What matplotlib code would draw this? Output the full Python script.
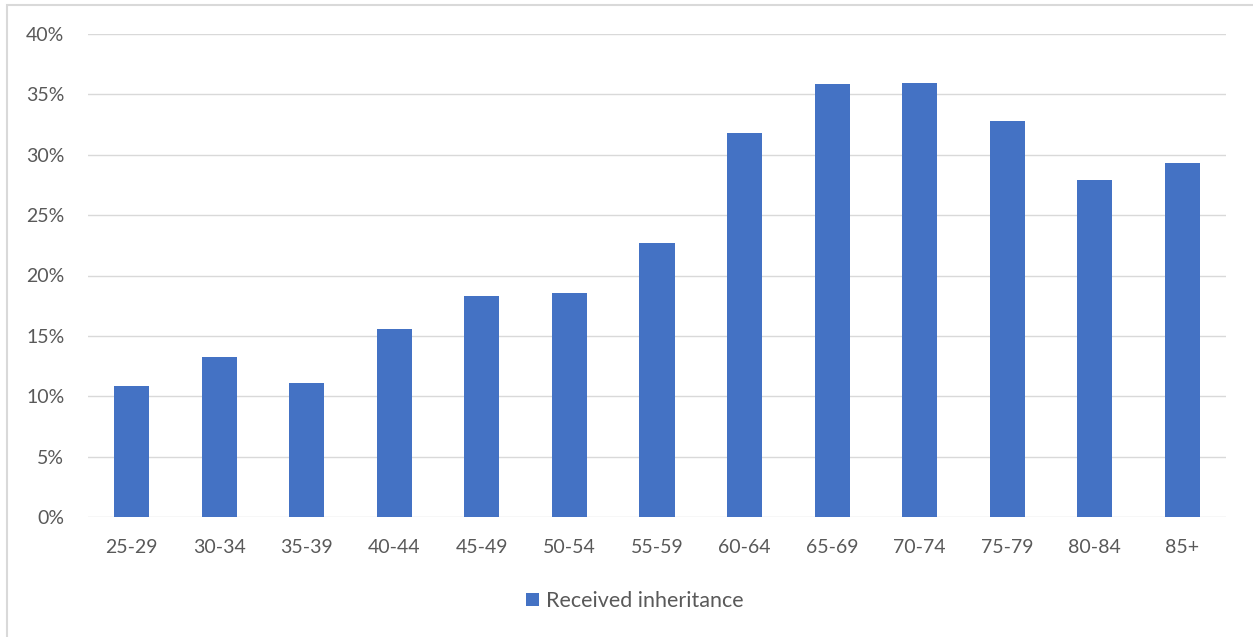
import matplotlib.pyplot as plt
from matplotlib.patches import Rectangle
from matplotlib.ticker import FuncFormatter, MultipleLocator

BAR_COLOR = "#4472C4"
GRID_COLOR = "#D9D9D9"
TEXT_COLOR = "#595959"

age_groups = ["25-29", "30-34", "35-39", "40-44", "45-49", "50-54", "55-59",
              "60-64", "65-69", "70-74", "75-79", "80-84", "85+"]
received_share = [10.85, 13.25, 11.1, 15.57, 18.3, 18.55, 22.7,
                  31.8, 35.9, 35.97, 32.8, 27.9, 29.3]
series_name = "Received inheritance"

plt.rcParams["font.family"] = ["Lato", "DejaVu Sans"]

fig = plt.figure(figsize=(12.53, 6.37), dpi=100)
ax = fig.add_axes([88 / 1253, 1 - 517 / 637, (1226 - 88) / 1253, (517 - 34) / 637])

# chart frame
fig.patches.append(Rectangle((7 / 1253, -0.01), 1.02, 1 - 5 / 637 + 0.01,
                             transform=fig.transFigure, fill=False,
                             edgecolor=GRID_COLOR, linewidth=1.5))

x = range(len(age_groups))
ax.bar(x, [v / 100 for v in received_share], width=0.4, color=BAR_COLOR,
       label=series_name, zorder=3)

ax.set_xlim(-0.5, len(age_groups) - 0.5)
ax.set_ylim(0, 0.40)
ax.yaxis.set_major_locator(MultipleLocator(0.05))
ax.yaxis.set_major_formatter(FuncFormatter(lambda v, _: f"{v * 100:.0f}%"))
ax.set_xticks(list(x))
ax.set_xticklabels(age_groups)

ax.grid(axis="y", color=GRID_COLOR, linewidth=1.0, zorder=0)
for s in ax.spines.values():
    s.set_visible(False)
ax.tick_params(length=0, labelsize=14, colors=TEXT_COLOR)
ax.tick_params(axis="x", pad=16)
ax.tick_params(axis="y", pad=17)

fig.legend(loc="center", bbox_to_anchor=(635 / 1253, 1 - 601 / 637),
           frameon=False, fontsize=15.5, labelcolor=TEXT_COLOR,
           handlelength=0.6, handleheight=0.6, handletextpad=0.35)

fig.savefig("out.png", dpi=100)
